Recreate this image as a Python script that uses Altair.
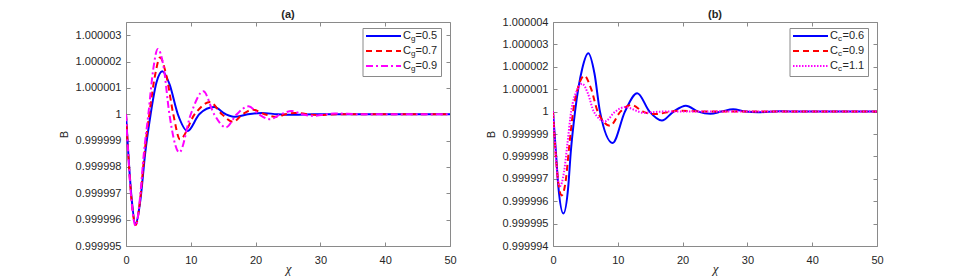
import altair as alt
import pandas as pd

# ---------------- data (B - 1, in units of 1e-6) ----------------
X_TICKS = [0, 10, 20, 30, 40, 50]
A_YTICKS = [0.999995, 0.999996, 0.999997, 0.999998, 0.999999, 1.0,
            1.000001, 1.000002, 1.000003]
B_YTICKS = [0.999994, 0.999995, 0.999996, 0.999997, 0.999998, 0.999999, 1.0,
            1.000001, 1.000002, 1.000003, 1.000004]

# panel (a)
a_x_05 = [0, 0.36, 0.87, 1.45, 2.25, 2.95, 3.8, 4.7, 5.6, 6.7, 8.0, 9.5, 11.3,
          13.6, 15.4, 16.8, 18.8, 20.9, 23.4, 26.0, 29.0, 33, 40, 45, 50]
a_d_05 = [0, -1.5, -3.2, -4.15, -3.2, -1.5, 0, 1.2, 1.63, 1.15, 0, -0.64, 0,
          0.27, 0, -0.1, 0, 0.05, 0, -0.02, 0, 0, 0, 0, 0]

a_x_07 = [0, 0.36, 0.87, 1.5, 2.2, 2.85, 3.6, 4.5, 5.25, 6.2, 7.3, 8.33, 10.6,
          12.96, 14.8, 16.5, 18.0, 19.6, 21.4, 23.2, 24.6, 26.0, 29.5, 33, 40, 50]
a_d_07 = [0, -1.55, -3.3, -4.2, -3.2, -1.5, 0, 1.5, 2.15, 1.5, 0, -0.95, 0,
          0.46, 0, -0.29, 0, 0.17, 0, -0.1, 0, 0.05, -0.03, 0, 0, 0]

a_x_09 = [0, 0.36, 0.87, 1.5, 2.15, 2.75, 3.45, 4.2, 4.9, 5.8, 6.7, 8.23, 10.0,
          11.93, 13.6, 15.4, 17.1, 18.9, 20.5, 22.2, 23.9, 25.6, 27.2, 28.8,
          32.2, 36, 42, 50]
a_d_09 = [0, -1.6, -3.35, -4.24, -3.2, -1.5, 0, 1.7, 2.48, 1.8, 0, -1.45, 0,
          0.87, 0, -0.5, 0, 0.3, 0, -0.19, 0, 0.12, 0, -0.06, 0.03, 0, 0, 0]

# panel (b)
b_x_06 = [0, 0.46, 0.82, 1.6, 2.36, 2.73, 3.4, 4.5, 5.45, 6.4, 7.25, 9.2, 11.1,
          13.0, 14.9, 16.8, 18.6, 20.5, 22.4, 24.3, 26.0, 27.8, 29.7, 31.6,
          35, 40, 50]
b_d_06 = [0, -1.85, -3.33, -4.55, -3.33, -1.85, 0, 1.9, 2.6, 1.7, 0, -1.4, 0,
          0.82, 0, -0.4, 0, 0.26, 0, -0.1, 0, 0.1, 0, -0.03, 0.02, 0, 0]

b_x_09 = [0, 0.4, 0.9, 1.34, 2.0, 2.45, 3.1, 4.0, 4.84, 5.9, 6.9, 8.8, 10.4,
          12.1, 13.9, 15.7, 19.5, 24, 50]
b_d_09 = [0, -1.85, -3.33, -3.74, -3.0, -1.7, 0, 1.2, 1.6, 1.0, 0, -0.63, 0,
          0.3, 0, -0.11, 0.04, 0, 0]

b_x_11 = [0, 0.4, 0.75, 1.08, 1.7, 2.2, 2.8, 3.7, 4.5, 5.4, 6.3, 8.0, 9.6,
          11.1, 14.0, 17, 50]
b_d_11 = [0, -1.85, -3.0, -3.33, -2.7, -1.5, 0, 0.95, 1.24, 0.8, 0, -0.44, 0,
          0.2, -0.05, 0, 0]

BLUE, RED, MAGENTA = "#0000ff", "#ff0000", "#ff00ff"
AXC = "#8a8a8a"
TXT = "#262626"
FONT = "Liberation Sans"
W, H = 324, 224

LABEL_EXPR = "abs(datum.value - 1) < 1e-9 ? '1' : format(datum.value, '.6f')"


def one_row():
    return alt.Chart(pd.DataFrame({"k": [0]}))


def panel(series, ydomain, yticks, title, subletter):
    xsc = alt.Scale(domain=[0, 50], nice=False, zero=False)
    ysc = alt.Scale(domain=ydomain, nice=False, zero=False)
    bottom = alt.Axis(values=X_TICKS, orient="bottom", offset=-4, tickSize=4,
                      domain=False, grid=False, labelPadding=8, labelFlush=False,
                      tickColor=AXC, labelColor=TXT, labelFont=FONT,
                      labelFontSize=11, title="χ", titleFont="Liberation Serif",
                      titleFontStyle="italic", titleFontWeight="normal",
                      titleFontSize=13, titleColor=TXT, titlePadding=-3)
    left = alt.Axis(values=yticks, orient="left", offset=-4, tickSize=4,
                    domain=False, grid=False, labelPadding=5, labelExpr=LABEL_EXPR,
                    tickColor=AXC, labelColor=TXT, labelFont=FONT,
                    labelFontSize=11, title="B", titleFont=FONT,
                    titleFontWeight="normal", titleFontSize=11, titleColor=TXT,
                    titlePadding=6)
    top = alt.Axis(values=X_TICKS, orient="top", offset=-4, tickSize=4,
                   domain=False, grid=False, labels=False, tickColor=AXC, title=None)
    right = alt.Axis(values=yticks, orient="right", offset=-4, tickSize=4,
                     domain=False, grid=False, labels=False, tickColor=AXC, title=None)

    layers = []
    for i, (name, xs, ds, color, dash, width) in enumerate(series):
        df = pd.DataFrame({"x": xs, "B": [1 + d * 1e-6 for d in ds], "s": name})
        mark = dict(color=color, strokeWidth=width, interpolate="monotone", clip=True)
        if dash:
            mark["strokeDash"] = dash
        layers.append(
            alt.Chart(df).mark_line(**mark).encode(
                x=alt.X("x:Q", scale=xsc, axis=bottom if i == 0 else None),
                y=alt.Y("B:Q", scale=ysc, axis=left if i == 0 else None),
            )
        )
    # secondary (top/right) tick axes
    df0 = pd.DataFrame({"x": series[0][1], "B": [1 + d * 1e-6 for d in series[0][2]]})
    layers.append(
        alt.Chart(df0).mark_line(opacity=0).encode(
            x=alt.X("x:Q", scale=xsc, axis=top),
            y=alt.Y("B:Q", scale=ysc, axis=right),
        )
    )

    # panel title as text above the frame
    layers.append(one_row().mark_text(text=title, align="center", baseline="middle",
                                      font=FONT, fontSize=11, fontWeight="bold",
                                      color=TXT).encode(
        x=alt.value(W / 2), y=alt.value(-7)))

    # manual legend (with subscripts)
    layers.append(one_row().mark_rect(fill="white", stroke=AXC, strokeWidth=1).encode(
        x=alt.value(237), x2=alt.value(315.5), y=alt.value(6.5), y2=alt.value(54.5)))
    ys = [14, 29, 44]
    for (name, xs, ds, color, dash, width), yy in zip(series, ys):
        rmark = dict(color=color, strokeWidth=width)
        if dash:
            rmark["strokeDash"] = dash
        layers.append(one_row().mark_rule(**rmark).encode(
            x=alt.value(240), x2=alt.value(275), y=alt.value(yy)))
        layers.append(one_row().mark_text(text="C", align="left", baseline="middle",
                                          font=FONT, fontSize=11, color=TXT).encode(
            x=alt.value(277), y=alt.value(yy)))
        layers.append(one_row().mark_text(text=subletter, align="left", baseline="middle",
                                          font=FONT, fontSize=8, color=TXT).encode(
            x=alt.value(285), y=alt.value(yy + 3)))
        layers.append(one_row().mark_text(text="=" + name, align="left", baseline="middle",
                                          font=FONT, fontSize=11, color=TXT).encode(
            x=alt.value(289.5), y=alt.value(yy)))

    return alt.layer(*layers).resolve_axis(x="independent", y="independent").properties(
        width=W, height=H,
    )


pa = panel([
    ("0.5", a_x_05, a_d_05, BLUE, None, 2),
    ("0.7", a_x_07, a_d_07, RED, [6, 4], 2),
    ("0.9", a_x_09, a_d_09, MAGENTA, [7, 3, 2, 3], 2),
], [0.999995, 1.0000035], A_YTICKS, "(a)", "g")

pb = panel([
    ("0.6", b_x_06, b_d_06, BLUE, None, 2),
    ("0.9", b_x_09, b_d_09, RED, [6, 4], 2),
    ("1.1", b_x_11, b_d_11, MAGENTA, [1.5, 1.5], 2),
], [0.999994, 1.000004], B_YTICKS, "(b)", "c")

chart = alt.hconcat(pa, pb, spacing=103, bounds="flush").properties(
    padding={"left": 49, "top": 0, "right": 0, "bottom": 0},
    background="white",
).configure_view(stroke=AXC, strokeWidth=1)

chart.save("out.html", embed_options={"renderer": "svg", "actions": False})
